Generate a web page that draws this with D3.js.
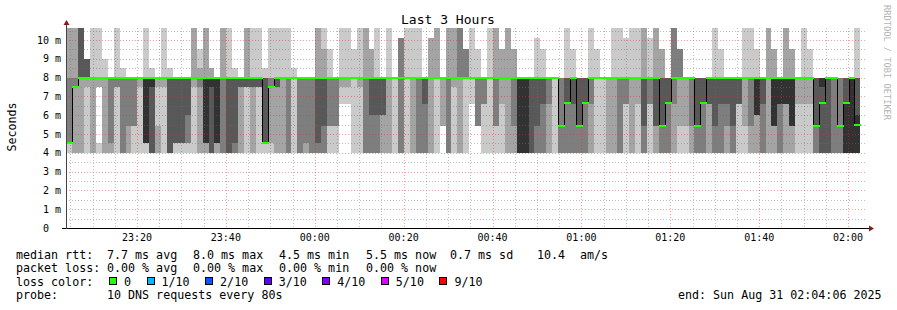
<!DOCTYPE html>
<html><head><meta charset="utf-8">
<script src="https://cdn.jsdelivr.net/npm/d3@7"></script>
<style>
html,body{margin:0;padding:0;background:#fff;}
svg{display:block;}
text{font-family:"DejaVu Sans Mono",monospace;white-space:pre;}
</style></head><body>
<svg id="c" width="897" height="310"></svg>
<script>
// ---------------- data ----------------
const title = "Last 3 Hours";
const yLabel = "Seconds";
const watermark = "RRDTOOL / TOBI OETIKER";
const startTime = [2025, 7, 30, 23, 4, 6];
const endTime = [2025, 7, 31, 2, 4, 6];
const stepSeconds = 80;
// smoke band boundaries (ms)
const levels = [4.0, 4.5, 5.4, 6.0, 6.6, 7.5, 8.0, 8.5, 9.0, 9.5, 10.1, 10.64];
// per 80 s step: shade of each band between consecutive levels (a lightest .. e darkest, '.' none)
const smoke = [
"acccccbbbbb","bbbbbcbbbbb","bbbbbbddddd","aaaaabdd...","bbbbbbaaaaa","a....baaaaa","bbbbbbaa...","bccccc.....","aaaaacaaaaa","cccccca....",
"bbcccc.....","aacccc.....","aaaaab.....","aeeeeeaaaaa","dddddea....","bbaaab.....","aaaaabaaaaa","dddddda....","addddd.....","addddd.....",
"accddd.....","aaaaabbbbbb","bbbbbcbaa..","beeeeebbbbb","dddddeb....","beeeee.....","ccccccbbbbb","ddddddaaaaa","cddddda....","bbbbbd.....",
"aaaaadbbbbb","bbbbbdaaaaa","aaaaadaaaaa","addddda....","abbbbcaaaaa","bbbbbdaaaaa","bbbbbbaaaaa","ccccccaaaaa","aaaaaaa....","cccccc.....",
"bccccc.....","cccccc.....","cdddddbbbbb","ccddddbbbaa","aaccccaaa..","aacccc.....","....abaaaaa","....abaaaaa","aaaaaaaaa..","aaaaabaaaaa",
"ccccccbbbbb","cccdddbbb..","cccdddaaaaa","bbbddd.....","bbbbbbaaaaa","aaaaaa.....","cccccccccc.","aaaaaaaaaaa","bbbbbbaaaaa","ccccccaaaaa",
"ccccdd.....","bbbbbbbbbb.","aaaaaabbbbb","..bbbb.....","ccccccbbbbb","aaaaabbbbbb","bbbbbbccccc","aaaaaaccc..","....aaaaaaa","..ccccaaa..",
"aaaacc.....","aaaaaaaaaaa","aaccccbbbbb","aaaabbbbb..","bbbbbbbbbbb","bbccccbbb..","eeeeee.....","eeeeee.....","dddddd.....","ccddddaaaa.",
"ccccddaaa..","bbbbcc.....","aaaaaa.....","cccccc.....","ccccddaaaaa","ccccddaaa..","ccdddd.....","ccccdd.....","bbbbccaaaaa","aaaaaaaaa..",
"aaaaaa.....","bbbbbb.....","bbbbbbaaaaa","ccccccaaaaa","aaaaccaaaa.","bbbbbbaaaaa","aaaabbaaaaa","ccddddbbbbb","aaaaccaaaa.","bbddddbbbbb",
"ccddddbbb..","ccccdd.....","bbbbccccccc","aabbbbccc..","aabbbb.....","bbcccc.....","ccdddd.....","ccccdd.....","bbbbdd.....","ccddddaaaaa",
"ccccddaaa..","bbccdd.....","ccdddd.....","aaaadd.....","aabbbbaaaaa","bbccccaaaaa","bbbeeeaaa..","ccccdd.....","bbbbbbbbbbb","bbeeeebbb..",
"ccccee.....","bbbbeebbbbb","bbeeeebbb..","aaaabb.....","aaaabbaaaaa","aaaabbaaa..","ccdddd.....","ddddde.....","dddddd.....","cccccc.....",
"cccccc.....","eeeedd.....","eeeeee.....","eeedddaaaaa"
];
// median rtt per step (ms)
const median = [
4.5,7.5,8,8,8,8,8,8,8,8,
8,8,8,8,8,8,8,8,8,8,
8,8,8,8,8,8,8,8,8,8,
8,8,8,4.5,7.5,8,8,8,8,8,
8,8,8,8,8,8,8,8,8,8,
8,8,8,8,8,8,8,8,8,8,
8,8,8,8,8,8,8,8,8,8,
8,8,8,8,8,8,8,8,8,8,
8,8,8,5.4,6.65,8,5.4,6.65,8,8,
8,8,8,8,8,8,8,8,8,8,
5.4,6.65,8,8,8,8,5.4,6.65,8,8,
8,8,8,8,8,8,8,8,8,8,
8,8,8,8,8,8,5.4,6.65,8,8,
5.4,6.65,8,5.5
];
const yTickValues = [0,1,2,3,4,5,6,7,8,9,10];
const yTickLabels = ["0","1 m","2 m","3 m","4 m","5 m","6 m","7 m","8 m","9 m","10 m"];
const xTickLabels = ["23:20","23:40","00:00","00:20","00:40","01:00","01:20","01:40","02:00"];
const rttStats = ["median rtt:","7.7 ms avg","8.0 ms max","4.5 ms min","5.5 ms now","0.7 ms sd","10.4","am/s"];
const lossStats = ["packet loss:","0.00 % avg","0.00 % max","0.00 % min","0.00 % now"];
const lossLabels = ["0","1/10","2/10","3/10","4/10","5/10","9/10"];
const lossColors = ["#26ff00","#00b8ff","#0059ff","#5e00ff","#7e00ff","#dd00ff","#ff0000"];
const probeText = ["probe:","10 DNS requests every 80s"];
const endText = "end: Sun Aug 31 02:04:06 2025";

// ---------------- styles / layout ----------------
const shade = {a:"#cacaca", b:"#a4a4a4", c:"#7e7e7e", d:"#585858", e:"#323232"};
const minorColor = "rgba(110,110,110,0.45)";
const majorColor = "rgba(235,40,40,0.45)";
const svg = d3.select("#c");
const t0 = new Date(...startTime), t1 = new Date(...endTime);
const x = d3.scaleTime().domain([t0, t1]).range([66.3, 866.3]);
const y = d3.scaleLinear().domain([0, 10.64]).range([228, 28]);
const stepMs = stepSeconds * 1000;
const colT = i => new Date(t0.getTime() + i * stepMs);

// smoke
const gS = svg.append("g").attr("shape-rendering", "crispEdges");
smoke.forEach((s, i) => {
  const xa = Math.round(x(colT(i))), xb = Math.round(x(colT(i + 1)));
  for (let k = 0; k < s.length; k++) {
    const ch = s[k];
    if (ch === ".") continue;
    const ya = Math.round(y(levels[k + 1])), yb = Math.round(y(levels[k]));
    gS.append("rect").attr("x", xa).attr("y", ya).attr("width", xb - xa).attr("height", yb - ya).attr("fill", shade[ch]);
  }
});

// grid (dotted)
const gG = svg.append("g").attr("shape-rendering", "crispEdges");
const minorY = d3.range(1, 22).map(v => v / 2).filter(v => v % 1 !== 0);
const majorY = yTickValues.filter(v => v > 0);
const px = v => Math.round(v) + 0.5;
const hLine = (v, c) => gG.append("line").attr("x1", 66).attr("x2", 866).attr("y1", px(y(v))).attr("y2", px(y(v)))
  .attr("stroke", c).attr("stroke-dasharray", "1,2");
const vLine = (d, c) => gG.append("line").attr("y1", 28).attr("y2", 228).attr("x1", px(x(d))).attr("x2", px(x(d)))
  .attr("stroke", c).attr("stroke-dasharray", "1,2");
const minorX = d3.timeMinute.every(5).range(t0, t1).filter(d => d.getMinutes() % 20 !== 0);
const majorX = d3.timeMinute.every(20).range(t0, t1);
minorY.forEach(v => hLine(v, minorColor));
minorX.forEach(d => vLine(d, minorColor));
majorY.forEach(v => hLine(v, majorColor));
majorX.forEach(d => vLine(d, majorColor));

// median: black step line then loss-coloured segments
const medPts = median.map((v, i) => [x(colT(i)), y(v)]);
medPts.push([x(colT(median.length)), y(median[median.length - 1])]);
svg.append("path").attr("d", d3.line().curve(d3.curveStepAfter)(medPts.map(p => [Math.round(p[0]) + 0.5, Math.round(p[1]) + 0.5])))
  .attr("fill", "none").attr("stroke", "#000").attr("stroke-width", 1).attr("shape-rendering", "crispEdges");
const gM = svg.append("g").attr("shape-rendering", "crispEdges");
median.forEach((v, i) => {
  const xa = Math.round(x(colT(i))), xb = Math.round(x(colT(i + 1)));
  gM.append("rect").attr("x", xa).attr("y", Math.round(y(v)) - 1).attr("width", xb - xa + 1).attr("height", 2).attr("fill", lossColors[0]);
});

// axes
const gA = svg.append("g").attr("shape-rendering", "crispEdges");
gA.append("line").attr("x1", 62).attr("x2", 870).attr("y1", 228.5).attr("y2", 228.5).attr("stroke", "#000");
gA.append("line").attr("x1", 66.5).attr("x2", 66.5).attr("y1", 229).attr("y2", 24).attr("stroke", "#444");
svg.append("path").attr("d", "M869,225.5 L874,228.5 L869,231.5 Z").attr("fill", "#821e1e");
svg.append("path").attr("d", "M63.5,25 L66.5,20 L69.5,25 Z").attr("fill", "#821e1e");

// y tick labels
yTickValues.forEach((v, i) => {
  const t = svg.append("text").attr("y", y(v) + 3.5).attr("font-size", "10px").attr("fill", "#000").text(yTickLabels[i]);
  if (v === 0) t.attr("x", 61 - 3 * 6.02); else t.attr("x", 61).attr("text-anchor", "end");
});
// x tick labels
xTickLabels.forEach(l => {
  const [h, m] = l.split(":").map(Number);
  const d = new Date(2025, 7, h >= 12 ? 30 : 31, h, m, 0);
  svg.append("text").attr("x", x(d)).attr("y", 241).attr("text-anchor", "middle").attr("font-size", "10px").attr("fill", "#000").text(l);
});

// titles
svg.append("text").attr("x", 448).attr("y", 24).attr("text-anchor", "middle").attr("font-size", "13px").attr("fill", "#000").text(title);
svg.append("text").attr("transform", "translate(15.5,127) rotate(-90)").attr("text-anchor", "middle").attr("font-size", "11.6px").attr("fill", "#000").text(yLabel);
svg.append("text").attr("transform", "translate(884,5) rotate(90)").attr("font-size", "8.7px").attr("fill", "#b4b4b4").text(watermark);

// legend
const fs = "11.66px";
const rttX = [16, 107, 193, 279, 366, 450, 537, 580];
rttStats.forEach((s, i) => svg.append("text").attr("x", rttX[i]).attr("y", 258.5).attr("font-size", fs).text(s));
const lossX = [16, 107, 193, 279, 366];
lossStats.forEach((s, i) => svg.append("text").attr("x", lossX[i]).attr("y", 272).attr("font-size", fs).text(s));
svg.append("text").attr("x", 16).attr("y", 285.5).attr("font-size", fs).text("loss color:");
let bx = 109;
lossLabels.forEach((l, i) => {
  svg.append("rect").attr("x", bx + 0.5).attr("y", 277.5).attr("width", 7).attr("height", 7).attr("fill", lossColors[i]).attr("stroke", "#000").attr("shape-rendering", "crispEdges");
  svg.append("text").attr("x", bx + 15).attr("y", 285.5).attr("font-size", fs).text(l);
  bx = bx + 15 + l.length * 7.02 + 15.5;
});
svg.append("text").attr("x", 16).attr("y", 299).attr("font-size", fs).text(probeText[0]);
svg.append("text").attr("x", 107).attr("y", 299).attr("font-size", fs).text(probeText[1]);
svg.append("text").attr("x", 678).attr("y", 299).attr("font-size", fs).text(endText);
</script>
</body></html>
